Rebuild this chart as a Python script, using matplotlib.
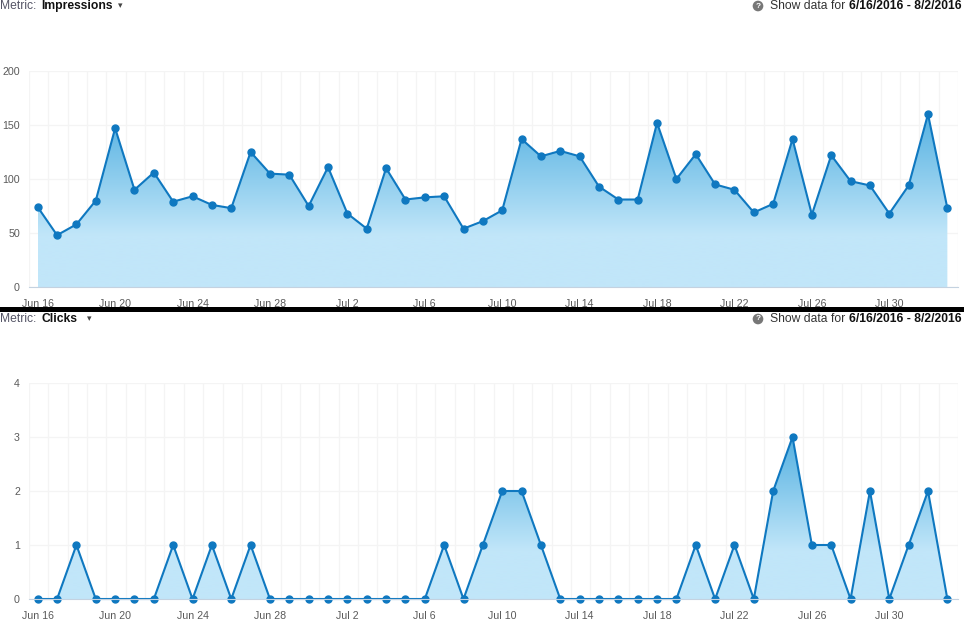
import numpy as np
import matplotlib
matplotlib.use("Agg")
import matplotlib.pyplot as plt
from matplotlib.colors import to_rgb
from matplotlib.patches import Rectangle

plt.rcParams['font.family'] = ['Liberation Sans', 'DejaVu Sans']

# ---------------- datos ----------------
dias = (["Jun %d" % d for d in range(16, 31)] +
        ["Jul %d" % d for d in range(1, 32)] +
        ["Aug 1", "Aug 2"])

impresiones = [74, 48, 58, 80, 147, 90, 106, 79, 84, 76, 73, 125, 105, 104, 75,
               111, 68, 54, 110, 81, 83, 84, 54, 61, 71, 137, 121, 126, 121, 93,
               81, 81, 152, 100, 123, 95, 90, 69, 77, 137, 67, 122, 98, 94, 68, 94,
               160, 73]

clics = [0, 0, 1, 0, 0, 0, 0, 1, 0, 1, 0, 1, 0, 0, 0,
         0, 0, 0, 0, 0, 0, 1, 0, 1, 2, 2, 1, 0, 0, 0,
         0, 0, 0, 0, 1, 0, 1, 0, 2, 3, 1, 1, 0, 2, 0, 1,
         2, 0]

metricas = ["Impressions", "Clicks"]
yticks_imp = [0, 50, 100, 150, 200]
yticks_cli = [0, 1, 2, 3, 4]
rango = "6/16/2016 - 8/2/2016"

# ---------------- estilo ----------------
AZUL = '#0f78c0'
C_ARRIBA = '#55b1e1'
C_ABAJO = '#c1e6f9'
W, H = 964, 620


def px(x):
    return x / W


def py(y):
    return 1 - y / H


def area_degradada(ax, vals):
    x = np.arange(len(vals))
    tope = max(vals)
    poly = ax.fill_between(x, 0, vals, facecolor='none', lw=0)
    ys = np.linspace(tope, 0, 300)
    t = np.clip((tope - ys) / (0.7 * tope), 0, 1)
    ca, cb = np.array(to_rgb(C_ARRIBA)), np.array(to_rgb(C_ABAJO))
    img = ca[None, :] * (1 - t[:, None]) + cb[None, :] * t[:, None]
    im = ax.imshow(img[:, None, :], extent=[0, len(vals) - 1, 0, tope],
                   aspect='auto', origin='upper', zorder=1, interpolation='bilinear')
    im.set_clip_path(poly.get_paths()[0], transform=ax.transData)


def panel(ax, vals, yticks):
    x = np.arange(len(vals))
    area_degradada(ax, vals)
    ax.plot(x, vals, color=AZUL, lw=1.5, marker='o', ms=5.0, zorder=4, clip_on=False)
    ax.set_xlim(-0.45, len(vals) - 0.45)
    ax.set_ylim(yticks[0], yticks[-1])
    ax.set_yticks(yticks)
    ax.set_xticks(x[::4])
    ax.set_xticklabels(dias[::4])
    ax.set_xticks(np.arange(-0.45, len(vals), 1.0), minor=True)
    ax.grid(which='minor', axis='x', color='#f4f4f4', lw=0.9, zorder=0)
    ax.grid(which='major', axis='y', color='#f4f4f4', lw=0.9, zorder=0)
    ax.grid(which='major', axis='x', visible=False)
    for s in ['top', 'left', 'right']:
        ax.spines[s].set_visible(False)
    ax.spines['bottom'].set_color('#c4d2e0')
    ax.spines['bottom'].set_zorder(5)
    ax.tick_params(axis='both', which='both', length=0, labelsize=7.7, colors='#5a5a5a')
    ax.tick_params(axis='x', pad=8.5)
    ax.tick_params(axis='y', pad=6.5)
    ax.set_axisbelow(True)


def encabezado(fig, y, metrica):
    fig.text(px(0), py(y), "Metric:", fontsize=8.7, color='#555566', va='center', ha='left')
    fig.text(px(41), py(y), metrica, fontsize=8.7, color='#111111', fontweight='bold',
             va='center', ha='left')
    x_tri = 41 + (71 if metrica == "Impressions" else 40) + 6
    fig.text(px(x_tri), py(y), "\u25BE", fontsize=6.5, color='#444444', va='center', ha='left',
             family=['DejaVu Sans'])
    fig.text(px(758), py(y), "?", fontsize=6, color='white', fontweight='bold',
             va='center', ha='center',
             bbox=dict(boxstyle='circle,pad=0.22', fc='#777777', ec='none'))
    fig.text(px(845), py(y), "Show data for", fontsize=8.7, color='#333333',
             va='center', ha='right')
    fig.text(px(962), py(y), rango, fontsize=8.7, color='#111111', fontweight='bold',
             va='center', ha='right')


# ---------------- figura ----------------
fig = plt.figure(figsize=(W / 100, H / 100), dpi=100)

ax1 = fig.add_axes([px(29), py(287), px(958 - 29), (287 - 71) / H])
panel(ax1, impresiones, yticks_imp)

ax2 = fig.add_axes([px(29), py(599), px(958 - 29), (599 - 383) / H])
panel(ax2, clics, yticks_cli)

encabezado(fig, 6, metricas[0])
encabezado(fig, 319, metricas[1])

# barra negra separadora
fig.add_artist(Rectangle((0, py(312)), 1, 5 / H, transform=fig.transFigure,
                         facecolor='black', edgecolor='none', zorder=10))

fig.savefig("out.png", dpi=100)
